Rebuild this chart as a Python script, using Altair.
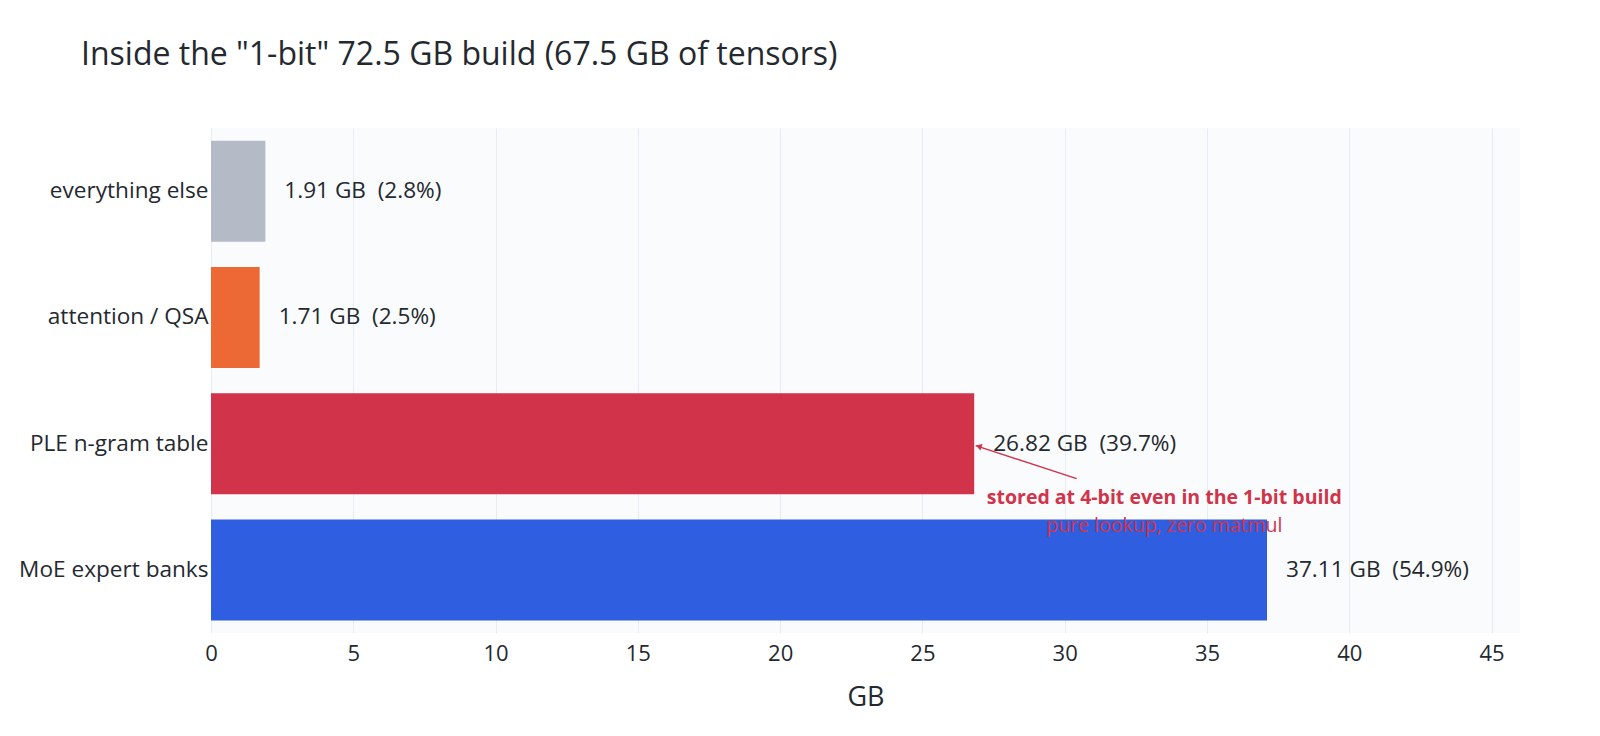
import altair as alt
import pandas as pd

categories = ["everything else", "attention / QSA", "PLE n-gram table", "MoE expert banks"]
gb_values = [1.91, 1.71, 26.82, 37.11]
pct_values = [2.8, 2.5, 39.7, 54.9]
bar_colors = ["#b4bac6", "#ec6834", "#d1334a", "#2f5fe0"]
x_ticks = [0, 5, 10, 15, 20, 25, 30, 35, 40, 45]

note_line1 = "stored at 4-bit even in the 1-bit build"
note_line2 = "pure lookup, zero matmul"
note_target = "PLE n-gram table"

FONT = "Open Sans"
TEXT = "#24292f"
RED = "#d1334a"

df = pd.DataFrame({
    "cat": categories,
    "gb": gb_values,
    "label": [f"{v:.2f} GB\u00a0\u00a0({p:.1f}%)" for v, p in zip(gb_values, pct_values)],
})

y_enc = alt.Y("cat:N", sort=categories, title=None,
              scale=alt.Scale(paddingInner=0.2, paddingOuter=0.1),
              axis=alt.Axis(labelFontSize=22.6, labelFont=FONT, labelColor=TEXT, labelLimit=400,
                            labelPadding=3, ticks=False, domain=False, grid=False))
x_scale = alt.Scale(domain=[0, 46], nice=False, zero=True)
x_enc = alt.X("gb:Q", scale=x_scale, title="GB",
              axis=alt.Axis(values=x_ticks, labelFontSize=22, labelFont=FONT, labelColor=TEXT,
                            labelFlush=False,
                            titleFontSize=27, titleFont=FONT, titleColor=TEXT,
                            titleFontWeight="normal", titlePadding=20,
                            labelPadding=10, ticks=False, domain=False,
                            grid=True, gridColor="#e7ebf5", gridWidth=1))

bars = alt.Chart(df).mark_bar().encode(
    x=x_enc,
    y=y_enc,
    color=alt.Color("cat:N", scale=alt.Scale(domain=categories, range=bar_colors), legend=None),
)

labels = alt.Chart(df).mark_text(align="left", baseline="middle", dx=19,
                                 fontSize=22.6, font=FONT, color=TEXT).encode(
    x=alt.X("gb:Q", scale=x_scale),
    y=alt.Y("cat:N", sort=categories),
    text="label:N",
)

note_df = pd.DataFrame({
    "cat": [note_target],
    "tail_x": [30.42],
    "head_x": [26.87],
    "text_x": [33.5],
    "l1": [note_line1],
    "l2": [note_line2],
})

arrow = alt.Chart(note_df).mark_rule(color=RED, strokeWidth=1.5, yOffset=35, y2Offset=2).encode(
    x=alt.X("tail_x:Q", scale=x_scale),
    x2="head_x:Q",
    y=alt.Y("cat:N", sort=categories),
    y2="cat:N",
)

head = alt.Chart(note_df).mark_point(shape="triangle", filled=True, color=RED, opacity=1,
                                     size=45, angle=288, yOffset=3, xOffset=4).encode(
    x=alt.X("head_x:Q", scale=x_scale),
    y=alt.Y("cat:N", sort=categories),
)

text1 = alt.Chart(note_df).mark_text(align="center", baseline="alphabetic", dy=60,
                                     fontSize=19.5, font=FONT, fontWeight="bold", color=RED).encode(
    x=alt.X("text_x:Q", scale=x_scale),
    y=alt.Y("cat:N", sort=categories),
    text="l1:N",
)

text2 = alt.Chart(note_df).mark_text(align="center", baseline="alphabetic", dy=88,
                                     fontSize=19.5, font=FONT, color=RED).encode(
    x=alt.X("text_x:Q", scale=x_scale),
    y=alt.Y("cat:N", sort=categories),
    text="l2:N",
)

chart = alt.layer(bars, labels, arrow, head, text1, text2).properties(
    width=1309,
    height=505,
    title=alt.TitleParams(
        'Inside the "1-bit" 72.5 GB build (67.5 GB of tensors)',
        anchor="start", frame="group", dx=-130, offset=56,
        fontSize=32, font=FONT, color=TEXT, fontWeight="normal",
    ),
    autosize=alt.AutoSizeParams(type="none"),
    padding={"left": 203, "top": 120, "right": 60, "bottom": 85},
    background="white",
).configure_view(stroke=None, fill="#fafbfc")

chart.save("out.html", embed_options={"renderer": "svg", "actions": False})
